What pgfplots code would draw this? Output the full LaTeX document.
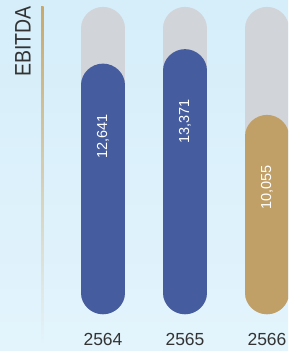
\documentclass[border=0pt]{standalone}
\usepackage{fontspec}
\setmainfont{Liberation Sans}
\usepackage{pgfplots}
\usepackage{pgfplotstable}
\pgfplotsset{compat=1.18}
\definecolor{bgtop}{HTML}{D5EEFA}
\definecolor{bgbot}{HTML}{E3F4FC}
\definecolor{track}{HTML}{D1D4D8}
\definecolor{barblue}{HTML}{455C9F}
\definecolor{bargold}{HTML}{C1A068}
\definecolor{linegold}{HTML}{C9A86A}
\definecolor{txt}{HTML}{333333}

\pgfplotstableread{
x v lab
0 12641 12,641
1 13371 13,371
}\bluedata
\pgfplotstableread{
x v lab
2 10055 10,055
}\golddata
\pgfplotstableread{
x v
0 15500
1 15500
2 15500
}\trackdata

\begin{document}
\begin{tikzpicture}
\begin{axis}[
 scale only axis, width=288pt, height=351pt,
 xmin=-1.2561, xmax=2.2561, ymin=-2935, ymax=14765,
 axis line style={draw=none},
 tick style={draw=none},
 major tick length=0pt,
 xtick={0,1,2}, xticklabels={2564,2565,2566},
 ytick=\empty,
 xticklabel style={font=\fontsize{17.5}{19}\selectfont, text=txt, anchor=center, yshift=11.7pt},
 axis background/.style={top color=bgtop, bottom color=bgbot},
 y filter/.expression={y-2168},
 every axis plot/.append style={ycomb, line cap=round, line width=43pt, mark=none},
 nodes near coords style={font=\fontsize{14.5}{15}\selectfont, text=white, rotate=90, anchor=east, inner xsep=7.5pt, inner ysep=0pt},
]
\addplot[track] table[x=x,y=v]{\trackdata};
\addplot[barblue, point meta=explicit symbolic, nodes near coords] table[x=x,y=v,meta=lab]{\bluedata};
\addplot[bargold, point meta=explicit symbolic, nodes near coords] table[x=x,y=v,meta=lab]{\golddata};
\end{axis}
\shade[top color=linegold, middle color=linegold!85!bgbot, bottom color=bgbot] (41.1pt,6pt) rectangle (43.5pt,344.3pt);
\node[rotate=90, text=txt, font=\fontsize{19.5}{21}\selectfont, yscale=1.15] at (23pt,309.5pt) {EBITDA};
\end{tikzpicture}
\end{document}
